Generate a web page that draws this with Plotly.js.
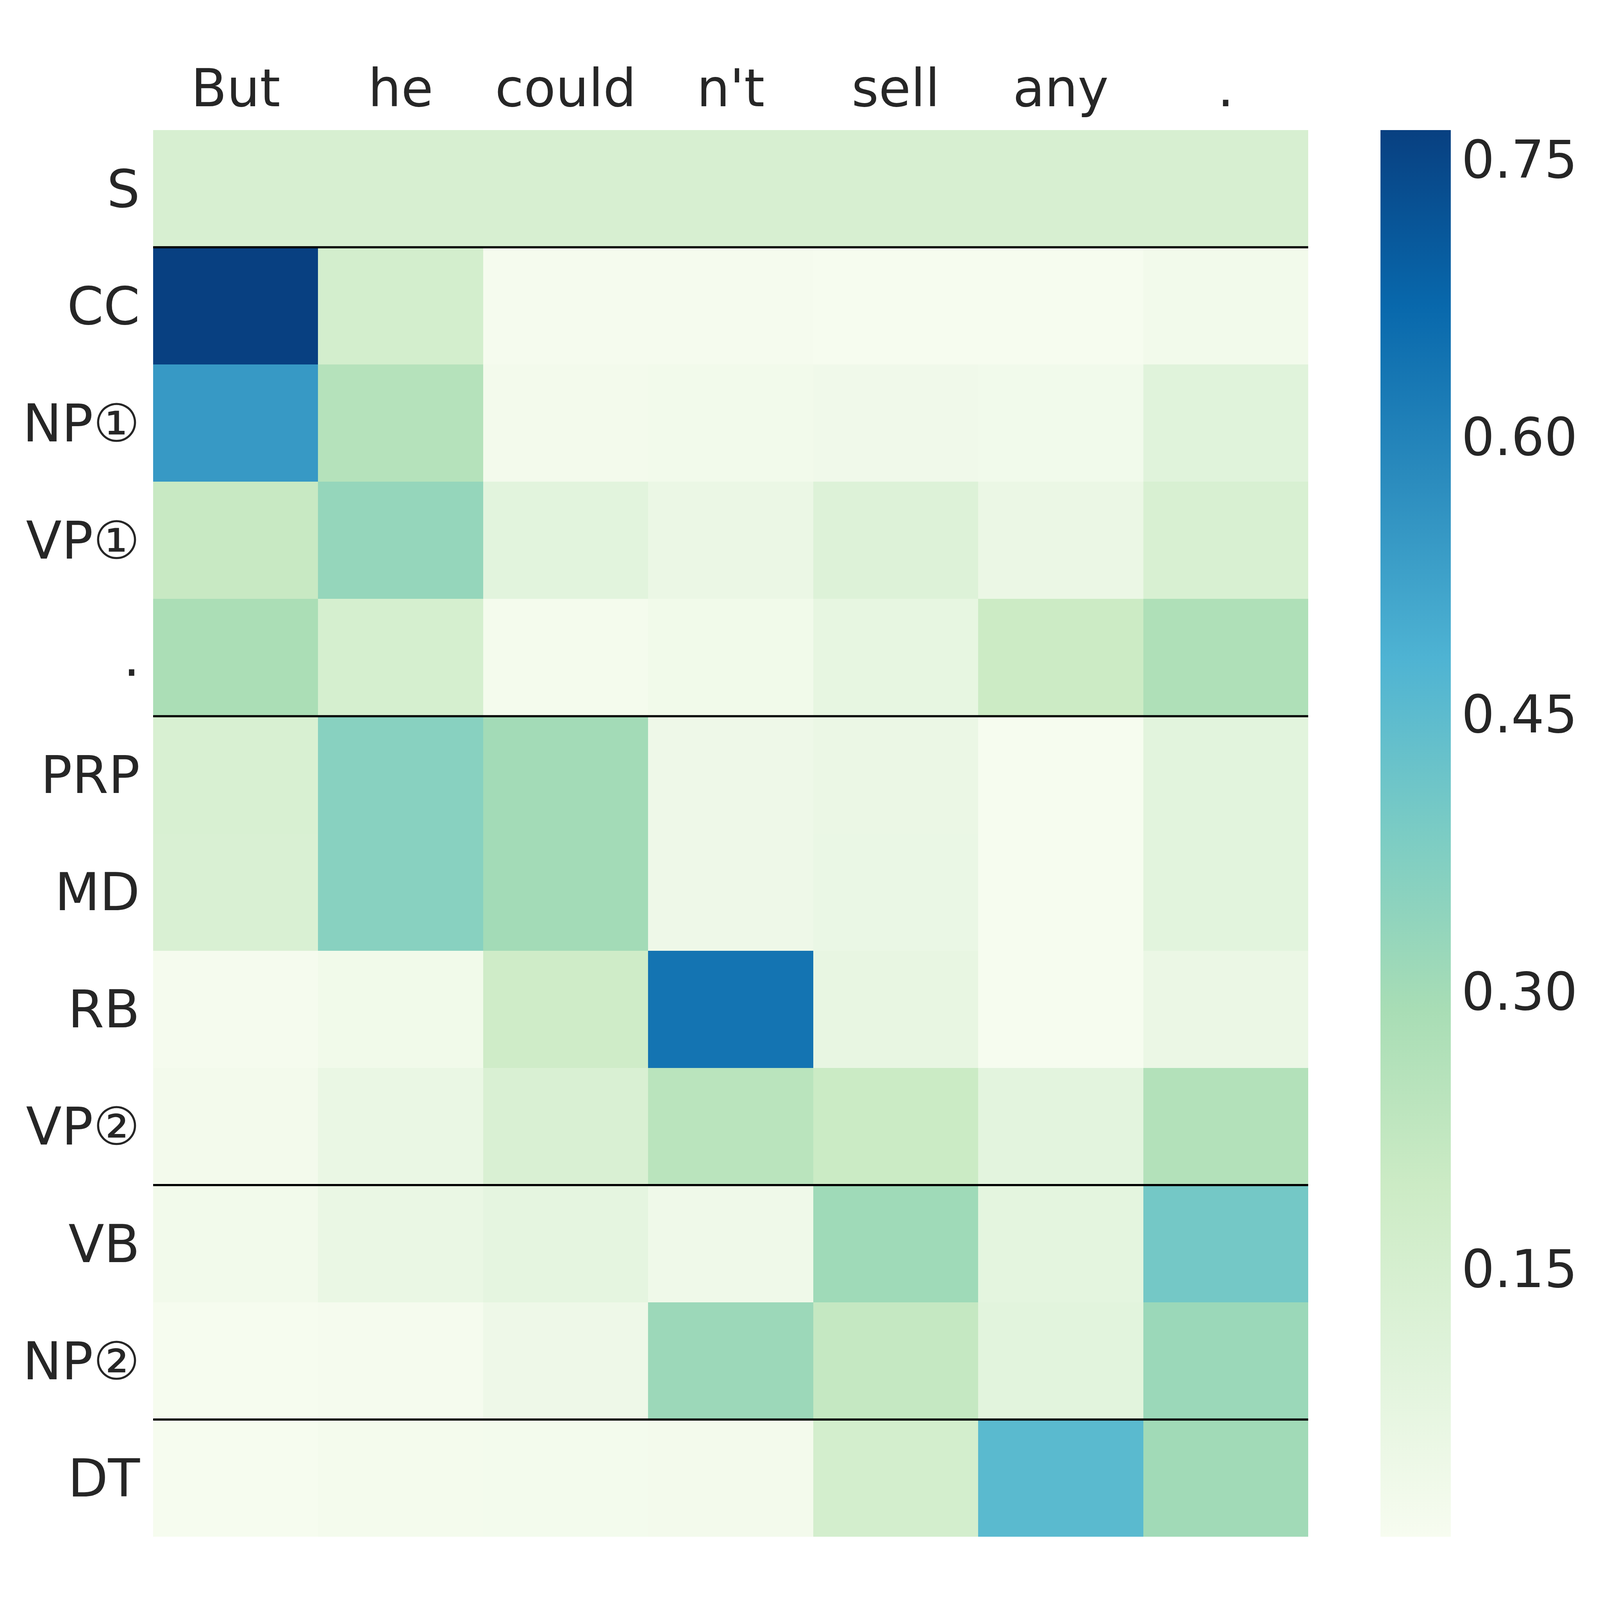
<!DOCTYPE html>
<html>
<head>
<meta charset="utf-8">
<script src="https://cdn.plot.ly/plotly-3.0.1.min.js"></script>
<style>html,body{margin:0;padding:0;background:#fff;overflow:hidden;}</style>
</head>
<body>
<div id="chart"></div>
<script>
// Columns (tokens) and rows (constituent labels)
const tokens = ["But", "he", "could", "n't", "sell", "any", "."];
const rowLabels = ["S", "CC", "NP①", "VP①", ".", "PRP", "MD", "RB", "VP②", "VB", "NP②", "DT"];

// Attention values per row
const rowS   = [0.143, 0.143, 0.143, 0.143, 0.143, 0.143, 0.143];
const rowCC  = [0.766, 0.162, 0.013, 0.013, 0.010, 0.010, 0.026];
const rowNP1 = [0.543, 0.256, 0.022, 0.026, 0.034, 0.028, 0.100];
const rowVP1 = [0.206, 0.331, 0.092, 0.055, 0.114, 0.055, 0.138];
const rowDot = [0.283, 0.153, 0.017, 0.031, 0.071, 0.195, 0.272];
const rowPRP = [0.138, 0.358, 0.300, 0.042, 0.055, 0.010, 0.092];
const rowMD  = [0.135, 0.358, 0.301, 0.042, 0.057, 0.010, 0.090];
const rowRB  = [0.013, 0.031, 0.181, 0.638, 0.067, 0.010, 0.055];
const rowVP2 = [0.022, 0.060, 0.134, 0.243, 0.198, 0.088, 0.261];
const rowVB  = [0.026, 0.060, 0.079, 0.038, 0.309, 0.084, 0.400];
const rowNP2 = [0.010, 0.013, 0.042, 0.316, 0.214, 0.092, 0.318];
const rowDT  = [0.010, 0.017, 0.020, 0.022, 0.162, 0.455, 0.305];

// Rows after which a separator line is drawn
const separatorsAfter = ["S", ".", "VP②", "NP②"];

// Colour bar ticks
const cbTicks = [0.15, 0.30, 0.45, 0.60, 0.75];
const zMin = 0.005, zMax = 0.766;

const z = [rowS, rowCC, rowNP1, rowVP1, rowDot, rowPRP, rowMD, rowRB, rowVP2, rowVB, rowNP2, rowDT];

// matplotlib GnBu
const gnbu = ["#f7fcf0","#e0f3db","#ccebc5","#a8ddb5","#7bccc4","#4eb3d3","#2b8cbe","#0868ac","#084081"];
const colorscale = gnbu.map((c, i) => [i / (gnbu.length - 1), c]);

const FONT = "DejaVu Sans";
const TXT = "#262626";
const CLEAR = "rgba(0,0,0,0)";

// Reference geometry (in reference pixels), scaled to the actual window
const W0 = 5153, H0 = 5037;
const vw = window.innerWidth || W0, vh = window.innerHeight || H0;
const s = Math.min(vw / W0, vh / H0, 1);
const px = v => v * s;

const W = px(W0), H = px(H0);
const L = px(493), R = px(4213), T = px(419), B = px(4949);
const FS = px(168);

const el = document.getElementById("chart");
el.style.width = W + "px";
el.style.height = H + "px";

const trace = {
  type: "heatmap",
  x: tokens,
  y: rowLabels,
  z: z,
  zmin: zMin,
  zmax: zMax,
  colorscale: colorscale,
  hoverinfo: "skip",
  colorbar: {
    thickness: px(226),
    thicknessmode: "pixels",
    len: 1,
    lenmode: "fraction",
    x: (px(4446) - L) / (R - L),
    xanchor: "left",
    y: 0.5,
    yanchor: "middle",
    xpad: 0,
    ypad: 0,
    outlinewidth: 0,
    ticks: "",
    ticklen: 0,
    tickvals: cbTicks,
    ticktext: cbTicks.map(v => v.toFixed(2)),
    tickfont: {family: FONT, size: FS, color: TXT}
  }
};

const shapes = separatorsAfter.map(lbl => {
  const yv = rowLabels.indexOf(lbl) + 0.5;
  return {
    type: "line", xref: "paper", yref: "y",
    x0: 0, x1: 1, y0: yv, y1: yv,
    line: {color: "#000000", width: px(7)}
  };
});

const layout = {
  width: W, height: H,
  margin: {l: L, r: W - R, t: T, b: H - B, pad: 0},
  paper_bgcolor: "#ffffff",
  plot_bgcolor: "#ffffff",
  font: {family: FONT, size: FS, color: TXT},
  showlegend: false,
  xaxis: {
    side: "top",
    type: "category",
    showgrid: false, zeroline: false, showline: false,
    ticks: "outside", ticklen: px(8.7), tickcolor: CLEAR, tickwidth: 1,
    tickfont: {family: FONT, size: FS, color: TXT},
    fixedrange: true
  },
  yaxis: {
    type: "category",
    autorange: "reversed",
    showgrid: false, zeroline: false, showline: false,
    ticks: "outside", ticklen: px(7.7), tickcolor: CLEAR, tickwidth: 1,
    tickfont: {family: FONT, size: FS, color: TXT},
    fixedrange: true
  },
  shapes: shapes
};

Plotly.newPlot("chart", [trace], layout, {displayModeBar: false, staticPlot: true});
</script>
</body>
</html>
